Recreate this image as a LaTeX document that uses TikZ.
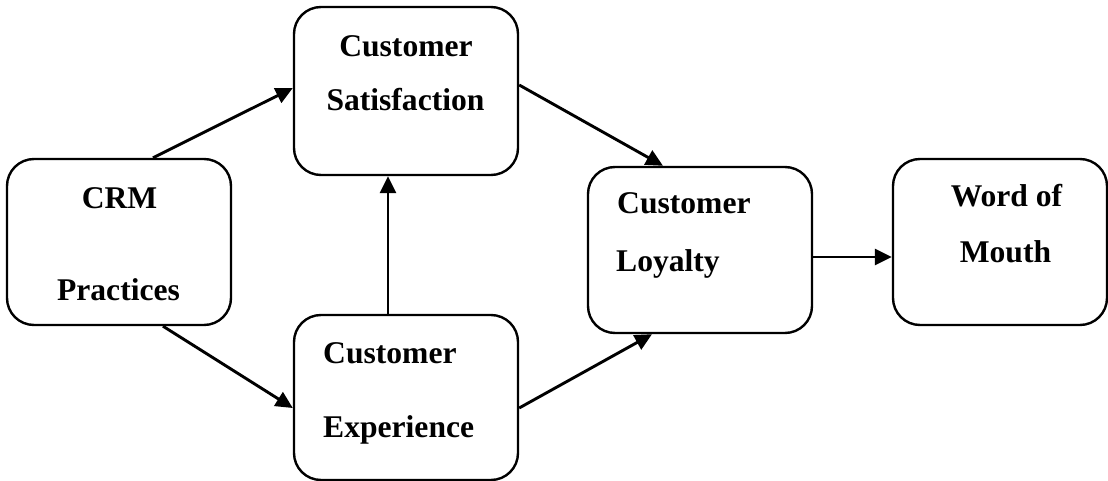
\documentclass[tikz,border=0pt]{standalone}
\usepackage{fontspec}
\setmainfont{Liberation Serif}
\usetikzlibrary{arrows.meta}
\begin{document}
\begin{tikzpicture}[x=1pt,y=-1pt,
  box/.style={draw=black, line width=2.4pt, rounded corners=27pt, fill=white, inner sep=0pt},
  lbl/.style={font=\fontsize{31.6}{38}\selectfont\bfseries, inner sep=0pt, anchor=base},
  llbl/.style={lbl, anchor=base west},
  arr/.style={line width=2.9pt, -{Triangle[length=17pt,width=16pt]}}]
\fill[white] (0,0) rectangle (1108,481);
\useasboundingbox (0,0) rectangle (1108,481);
\node[box, minimum width=224pt, minimum height=166pt] (crm) at (119,242) {};
\node[box, minimum width=224pt, minimum height=168pt] (sat) at (406,91) {};
\node[box, minimum width=224pt, minimum height=165pt] (exp) at (406,397.5) {};
\node[box, minimum width=224pt, minimum height=166pt] (loy) at (700,250) {};
\node[box, minimum width=214pt, minimum height=166pt] (wom) at (1000,242) {};
\node[lbl] (t1) at (119.5,208) {CRM};
\node[lbl] (t2) at (118.5,300) {Practices};
\node[lbl] (t3) at (406,57) {Customer};
\node[lbl] (t4) at (405.5,111) {Satisfaction};
\node[llbl] (t5) at (323,363) {Customer};
\node[llbl] (t6) at (323,437) {Experience};
\node[llbl] (t7) at (617,214) {Customer};
\node[llbl] (t8) at (616,271) {Loyalty};
\node[lbl] (t9) at (1006.5,207) {Word of};
\node[lbl] (t10) at (1005.5,262) {Mouth};
\draw[arr] ([xshift=34pt]crm.north) -- ([yshift=3pt]sat.west);
\draw[arr] ([xshift=44pt]crm.south) -- ([yshift=-10.5pt]exp.west);
\draw[arr] ([xshift=-18pt]exp.north) -- ([xshift=-18pt]sat.south);
\draw[arr] ([yshift=6pt]sat.east) -- ([xshift=-37pt]loy.north);
\draw[arr] ([yshift=-10.5pt]exp.east) -- ([xshift=-48pt]loy.south);
\draw[arr] ([yshift=-7pt]loy.east) -- ([yshift=-7pt]loy.east -| wom.west);
\end{tikzpicture}
\end{document}
